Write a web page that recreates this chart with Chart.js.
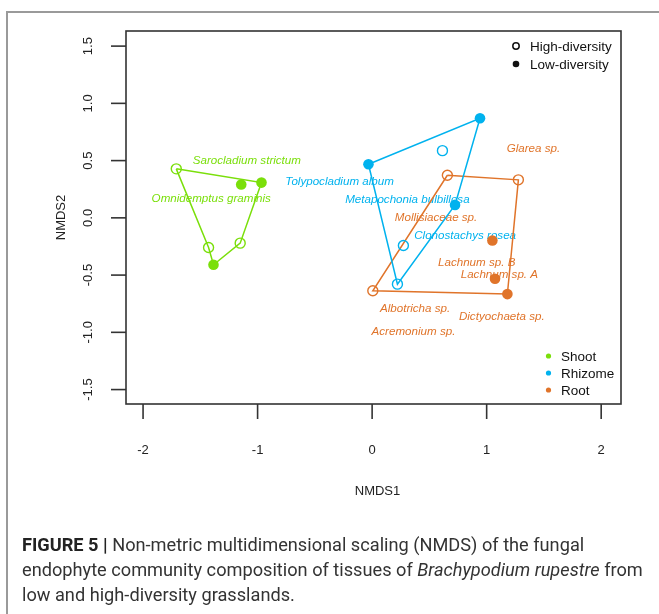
<!DOCTYPE html>
<html>
<head>
<meta charset="utf-8">
<script src="https://cdn.jsdelivr.net/npm/chart.js@4/dist/chart.umd.min.js"></script>
<style>
  html, body { margin: 0; padding: 0; background: #fff; }
  #wrap { position: relative; width: 659px; height: 614px; overflow: hidden; }
  #frame { position: absolute; left: 6px; top: 11px; right: -5px; bottom: -5px;
           border-top: 2px solid #9a9a9a; border-left: 2px solid #9a9a9a; }
  #plot { position: absolute; left: 0; top: 0; }
  #caption { position: absolute; left: 22px; top: 532px; font-family: Roboto, "Liberation Sans", sans-serif;
             font-size: 18.2px; line-height: 25px; color: #333; white-space: nowrap; }
  #caption b { font-weight: bold; color: #222; }
</style>
</head>
<body>
<div id="wrap">
  <div id="frame"></div>
  <canvas id="plot" width="659" height="614"></canvas>
  <div id="caption"><b>FIGURE 5 |</b> Non-metric multidimensional scaling (NMDS) of the fungal<br>endophyte community composition of tissues of <i>Brachypodium rupestre</i> from<br>low and high-diversity grasslands.</div>
</div>
<script>
// NMDS site scores per tissue; diversity: 'high' = open circle, 'low' = filled circle
const shootX = [-1.710, -1.143, -0.966, -1.428, -1.152, -1.385];
const shootY = [0.428, 0.291, 0.308, -0.259, -0.221, -0.410];
const shootDiv = ['high', 'low', 'low', 'high', 'high', 'low'];
const shootHull = [0, 2, 4, 5, 3];

const rhizomeX = [0.942, -0.032, 0.614, 0.724, 0.273, 0.221];
const rhizomeY = [0.870, 0.468, 0.587, 0.113, -0.241, -0.579];
const rhizomeDiv = ['low', 'low', 'high', 'low', 'high', 'high'];
const rhizomeHull = [1, 0, 3, 5];

const rootX = [0.657, 1.277, 1.050, 1.073, 1.181, 0.006];
const rootY = [0.372, 0.332, -0.198, -0.532, -0.666, -0.637];
const rootDiv = ['high', 'high', 'low', 'low', 'low', 'high'];
const rootHull = [0, 1, 4, 5];

// Fungal taxa (species scores)
const taxaNames = ['Sarocladium strictum', 'Omnidemptus graminis',
  'Tolypocladium album', 'Metapochonia bulbillosa', 'Clonostachys rosea',
  'Glarea sp.', 'Mollisiaceae sp.', 'Lachnum sp. B', 'Lachnum sp. A',
  'Albotricha sp.', 'Dictyochaeta sp.', 'Acremonium sp.'];
const taxaX = [-1.094, -1.405, -0.284, 0.308, 0.812, 1.408, 0.558, 0.913, 1.111, 0.375, 1.132, 0.361];
const taxaY = [0.495, 0.163, 0.314, 0.157, -0.157, 0.602, 0.003, -0.395, -0.497, -0.797, -0.867, -0.998];
const taxaTissue = ['Shoot', 'Shoot', 'Rhizome', 'Rhizome', 'Rhizome',
  'Root', 'Root', 'Root', 'Root', 'Root', 'Root', 'Root'];

const xTicks = [-2, -1, 0, 1, 2];
const yTicks = [-1.5, -1.0, -0.5, 0.0, 0.5, 1.0, 1.5];
const tissues = ['Shoot', 'Rhizome', 'Root'];
const diversityLevels = ['High-diversity', 'Low-diversity'];

const colors = { Shoot: '#7ADF0A', Rhizome: '#00B2EE', Root: '#E0742A' };
const groups = {
  Shoot: { x: shootX, y: shootY, div: shootDiv, hull: shootHull },
  Rhizome: { x: rhizomeX, y: rhizomeY, div: rhizomeDiv, hull: rhizomeHull },
  Root: { x: rootX, y: rootY, div: rootDiv, hull: rootHull }
};

const datasets = [];
tissues.forEach(t => {
  const g = groups[t];
  const hullPts = g.hull.concat([g.hull[0]]).map(i => ({ x: g.x[i], y: g.y[i] }));
  datasets.push({
    type: 'line', data: hullPts, borderColor: colors[t], borderWidth: 1.5,
    pointRadius: 0, fill: false, tension: 0, order: 2
  });
});
tissues.forEach(t => {
  const g = groups[t];
  const open = [], filled = [];
  g.x.forEach((v, i) => (g.div[i] === 'high' ? open : filled).push({ x: v, y: g.y[i] }));
  datasets.push({
    type: 'scatter', data: open, pointRadius: 5, pointBorderWidth: 1.4,
    pointBorderColor: colors[t], pointBackgroundColor: 'rgba(255,255,255,0)', order: 1
  });
  datasets.push({
    type: 'scatter', data: filled, pointRadius: 5.3, pointBorderWidth: 0,
    pointBorderColor: colors[t], pointBackgroundColor: colors[t], order: 1
  });
});

const SANS = '"Liberation Sans", Arial, sans-serif';

const rStyle = {
  id: 'rStyle',
  beforeDatasetsDraw(chart) {
    const { ctx, scales: { x, y } } = chart;
    ctx.save();
    ctx.font = 'italic 11.6px ' + SANS;
    ctx.textAlign = 'center';
    ctx.textBaseline = 'middle';
    taxaNames.forEach((n, i) => {
      ctx.fillStyle = colors[taxaTissue[i]];
      ctx.fillText(n, x.getPixelForValue(taxaX[i]), y.getPixelForValue(taxaY[i]));
    });
    ctx.restore();
  },
  afterDatasetsDraw(chart) {
    const { ctx, chartArea: a, scales: { x, y } } = chart;
    ctx.save();
    ctx.strokeStyle = '#333';
    ctx.lineWidth = 1.6;
    ctx.strokeRect(a.left, a.top, a.right - a.left, a.bottom - a.top);
    ctx.fillStyle = '#222';
    ctx.font = '13px ' + SANS;
    ctx.textAlign = 'center';
    ctx.textBaseline = 'middle';
    xTicks.forEach(v => {
      const px = x.getPixelForValue(v);
      ctx.beginPath(); ctx.moveTo(px, a.bottom); ctx.lineTo(px, a.bottom + 15); ctx.stroke();
      ctx.fillText(String(v), px, 450);
    });
    yTicks.forEach(v => {
      const py = y.getPixelForValue(v);
      ctx.beginPath(); ctx.moveTo(a.left, py); ctx.lineTo(a.left - 15, py); ctx.stroke();
      ctx.save();
      ctx.translate(88, py);
      ctx.rotate(-Math.PI / 2);
      ctx.fillText(v.toFixed(1), 0, 0);
      ctx.restore();
    });
    ctx.fillText('NMDS1', (a.left + a.right) / 2 + 4, 491);
    ctx.save();
    ctx.translate(61, (a.top + a.bottom) / 2);
    ctx.rotate(-Math.PI / 2);
    ctx.fillText('NMDS2', 0, 0);
    ctx.restore();

    // diversity legend
    ctx.textAlign = 'left';
    ctx.font = '13.5px ' + SANS;
    const dy = [46, 64];
    diversityLevels.forEach((lab, i) => {
      ctx.beginPath();
      ctx.arc(516, dy[i], i === 0 ? 3.2 : 3.3, 0, Math.PI * 2);
      if (i === 0) { ctx.lineWidth = 1.5; ctx.strokeStyle = '#111'; ctx.stroke(); }
      else { ctx.fillStyle = '#111'; ctx.fill(); }
      ctx.fillStyle = '#111';
      ctx.fillText(lab, 530, dy[i] + 1);
    });
    // tissue legend
    const ty = [356, 373, 390];
    tissues.forEach((t, i) => {
      ctx.beginPath();
      ctx.arc(548.5, ty[i], 2.6, 0, Math.PI * 2);
      ctx.fillStyle = colors[t]; ctx.fill();
      ctx.fillStyle = '#111';
      ctx.fillText(t, 561, ty[i] + 1);
    });
    ctx.restore();
  }
};

new Chart(document.getElementById('plot'), {
  type: 'scatter',
  data: { datasets },
  options: {
    responsive: false,
    animation: false,
    devicePixelRatio: 1,
    layout: { padding: { left: 126, top: 31, right: 38, bottom: 210 } },
    scales: {
      x: { type: 'linear', min: -2.149, max: 2.173, display: false },
      y: { type: 'linear', min: -1.626, max: 1.632, display: false }
    },
    plugins: { legend: { display: false }, tooltip: { enabled: false } }
  },
  plugins: [rStyle]
});
</script>
</body>
</html>
